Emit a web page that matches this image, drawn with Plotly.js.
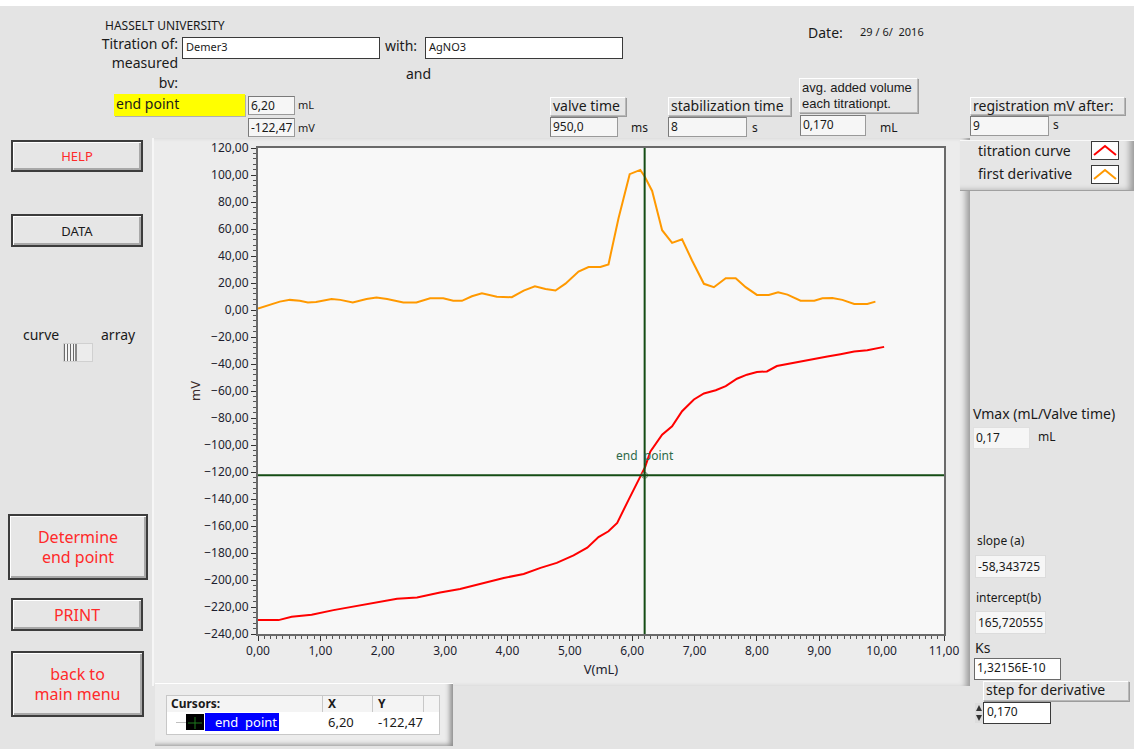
<!DOCTYPE html>
<html>
<head>
<meta charset="utf-8">
<script src="https://cdn.plot.ly/plotly-3.0.1.min.js"></script>
<style>
  html, body { margin: 0; padding: 0; }
  body { width: 1134px; height: 749px; position: relative; overflow: hidden;
         background: #ffffff; font-family: "Noto Sans", "Open Sans", sans-serif; color: #1a1a1a; }
  #win { position: absolute; left: 0; top: 6px; width: 1134px; height: 743px; background: #e4e4e4; }
  .abs { position: absolute; white-space: nowrap; }
  .lbl { font-size: 14px; line-height: 16px; }
  .inbox { background: #ffffff; border: 1px solid #3a3a3a; font-size: 11px; line-height: 18px; padding-left: 3px; box-sizing: border-box; }
  .ind { background: #f6f6f6; border: 1px solid #9a9a9a; border-top-color: #7a7a7a; border-left-color: #7a7a7a;
         font-size: 12px; line-height: 18px; padding-left: 2px; box-sizing: border-box; }
  .cap { background: #e6e6e6; border: 1px solid #b8b8b8; border-top-color: #ffffff; border-left-color: #ffffff;
         box-shadow: 1px 1px 0 #9c9c9c; font-size: 14px; line-height: 16px; padding: 0 2px; box-sizing: border-box; }
  .btn { background: #e6e6e6; border: 2px solid #3c3c3c; box-shadow: inset 1px 1px 0 #ffffff, inset -2px -2px 0 #a8a8a8;
         color: #ff2a2a; text-align: center; box-sizing: border-box; display: flex; align-items: center; justify-content: center; }
  #plotPanel { position: absolute; left: 152px; top: 138px; width: 816px; height: 548px; background: #ececec;
               border-left: 2px solid #f6f6f6; box-shadow: inset -7px 0 6px -3px #9a9a9a; }
  #chart { position: absolute; left: 150px; top: 130px; width: 820px; height: 560px; }
</style>
</head>
<body>
<div id="win"></div>
<div id="plotPanel"></div>
<div id="chart"></div>

<script>
// ---- titration data (volume in mL, potential in mV) ----
const titrV  = [0.00, 0.33, 0.54, 0.86, 1.21, 1.53, 1.85, 2.23, 2.55, 2.92, 3.24, 3.62, 3.94, 4.26, 4.53,
                4.79, 5.06, 5.28, 5.46, 5.62, 5.76, 5.94, 6.13, 6.21, 6.29, 6.48, 6.64, 6.80, 6.99, 7.15,
                7.34, 7.50, 7.68, 7.84, 8.00, 8.16, 8.32, 8.54, 8.70, 8.91, 9.13, 9.34, 9.56, 9.77, 10.04];
const titrMV = [-229.7, -229.7, -227.3, -225.8, -222.3, -219.8, -217.4, -213.9, -212.9, -209.2, -206.6, -202.2, -198.5, -195.5, -191.0,
                -187.3, -181.8, -176.1, -168.2, -163.9, -157.7, -140.8, -123.5, -116.0, -105.0, -92.4, -86.2, -75.0, -66.3, -61.8,
                -59.4, -56.4, -50.9, -47.9, -45.9, -45.5, -41.5, -39.5, -38.3, -36.5, -34.5, -32.8, -30.8, -29.8, -27.3];

// ---- first derivative of the titration curve ----
const derivV  = [0.00, 0.17, 0.35, 0.51, 0.67, 0.80, 0.93, 1.18, 1.32, 1.52, 1.74, 1.90, 2.07, 2.33, 2.54,
                 2.76, 2.97, 3.13, 3.27, 3.43, 3.59, 3.83, 4.07, 4.26, 4.44, 4.61, 4.77, 4.93, 5.14, 5.30,
                 5.49, 5.62, 5.78, 5.96, 6.13, 6.20, 6.32, 6.48, 6.64, 6.80, 6.96, 7.15, 7.31, 7.50, 7.66,
                 7.82, 8.00, 8.19, 8.34, 8.49, 8.70, 8.92, 9.05, 9.21, 9.37, 9.56, 9.77, 9.90];
const derivMV = [1.0, 3.5, 6.2, 7.5, 6.8, 5.5, 6.0, 8.2, 7.5, 5.5, 8.2, 9.3, 8.2, 5.5, 5.5,
                 8.7, 8.7, 6.8, 6.8, 10.2, 12.4, 9.8, 9.5, 14.4, 17.5, 15.6, 14.4, 19.5, 28.5, 31.8,
                 31.8, 33.8, 67.8, 100.6, 103.8, 98.9, 88.2, 59.1, 49.7, 52.4, 36.7, 19.4, 16.9, 23.6, 23.6,
                 16.9, 11.2, 11.2, 13.2, 11.4, 6.9, 6.9, 8.7, 8.9, 7.5, 4.5, 4.5, 6.2];

// ---- end point cursor ----
const endX = [6.20];
const endY = [-122.47];

// ---- panel readouts ----
const readouts = {
  endVol: "6,20", endMV: "-122,47", valveTime: "950,0", stabTime: "8", avgVol: "0,170", regAfter: "9",
  vmax: "0,17", slope: "-58,343725", intercept: "165,720555", ks: "1,32156E-10", step: "0,170"
};

// ---------- front panel widgets ----------
function el(cls, x, y, w, h, html, extra) {
  const d = document.createElement('div');
  d.className = 'abs ' + cls;
  d.style.left = x + 'px'; d.style.top = y + 'px';
  if (w != null) d.style.width = w + 'px';
  if (h != null) d.style.height = h + 'px';
  d.innerHTML = html;
  if (extra) Object.assign(d.style, extra);
  document.body.appendChild(d);
  return d;
}

el('lbl', 105, 18, null, null, 'HASSELT UNIVERSITY', {fontSize: '12px'});
el('lbl', 60, 36, 118, null, 'Titration of:', {textAlign: 'right'});
el('lbl', 60, 53, 118, null, 'measured<br>bv:', {textAlign: 'right', whiteSpace: 'normal', lineHeight: '19.5px'});
el('inbox', 182, 37, 198, 22, 'Demer3');
el('lbl', 385, 38, null, null, 'with:');
el('inbox', 425, 37, 198, 22, 'AgNO3');
el('lbl', 406, 66, null, null, 'and');
el('lbl', 808, 25, null, null, 'Date:');
el('lbl', 860, 24, null, null, '29 / 6/&nbsp; 2016', {fontSize: '11px'});

el('', 114, 94, 131, 22, 'end point', {background: '#ffff00', fontSize: '14px', lineHeight: '20px', paddingLeft: '2px', boxSizing: 'border-box', boxShadow: '1px 1px 0 #b0b0b0'});
el('ind', 248, 96, 47, 19, readouts.endVol);
el('lbl', 298, 97, null, null, 'mL', {fontSize: '11px'});
el('ind', 248, 118, 47, 19, readouts.endMV);
el('lbl', 298, 120, null, null, 'mV', {fontSize: '11px'});

el('cap', 550, 97, 76, 19, 'valve time');
el('ind', 550, 117, 68, 20, readouts.valveTime);
el('lbl', 631, 120, null, null, 'ms', {fontSize: '12px'});
el('cap', 668, 97, 123, 19, 'stabilization time');
el('ind', 668, 117, 79, 20, readouts.stabTime);
el('lbl', 752, 120, null, null, 's', {fontSize: '12px'});
el('cap', 799, 78, 119, 35, 'avg. added volume<br>each titrationpt.',
   {fontFamily: '"Liberation Sans", Arial, sans-serif', fontSize: '13px', lineHeight: '15.5px', paddingTop: '1px', whiteSpace: 'normal'});
el('ind', 800, 115, 66, 21, readouts.avgVol);
el('lbl', 880, 120, null, null, 'mL', {fontSize: '12px'});
el('cap', 970, 97, 155, 18, 'registration mV after:');
el('ind', 970, 116, 79, 20, readouts.regAfter);
el('lbl', 1053, 117, null, null, 's', {fontSize: '12px'});

// buttons on the left
el('btn', 11, 140, 132, 32, 'HELP', {fontSize: '13px'});
el('btn', 11, 214, 132, 33, 'DATA', {fontSize: '13px', color: '#1a1a1a'});
el('lbl', 23, 327, null, null, 'curve');
el('lbl', 101, 327, null, null, 'array');
el('', 63, 343, 30, 19, '', {background: '#ececec', border: '1px solid #d0d0d0', boxSizing: 'border-box'});
el('', 64, 344, 13, 17, '', {background: 'repeating-linear-gradient(90deg,#6a6a6a 0 1px,#f4f4f4 1px 3px)', borderRight: '2px solid #8a8a8a', boxSizing: 'border-box'});
el('btn', 8, 514, 140, 66, 'Determine<br>end point', {fontSize: '16px', lineHeight: '20px'});
el('btn', 11, 598, 132, 33, 'PRINT', {fontSize: '16px'});
el('btn', 11, 651, 133, 66, 'back to<br>main menu', {fontSize: '16px', lineHeight: '20px'});

// legend
el('', 960, 140, 174, 49, '', {background: '#e6e6e6', borderTop: '1px solid #f8f8f8', boxShadow: 'inset -8px -3px 6px -4px #9a9a9a, 0 1px 0 #a0a0a0'});
el('lbl', 978, 143, null, null, 'titration curve');
el('lbl', 978, 166, null, null, 'first derivative');
function legendIcon(y, color) {
  el('', 1091, y, 28, 19,
     '<svg width="26" height="17"><polyline points="2,13 13,4 24,13" fill="none" stroke="' + color + '" stroke-width="2"/></svg>',
     {background: '#ffffff', border: '1px solid #3a3a3a', boxSizing: 'border-box'});
}
legendIcon(141, '#ff0000');
legendIcon(165, '#ff9900');

// right column
el('lbl', 973, 406, null, null, 'Vmax (mL/Valve time)');
el('ind', 973, 427, 57, 22, readouts.vmax, {lineHeight: '20px', borderColor: '#e0e0e0'});
el('lbl', 1038, 429, null, null, 'mL', {fontSize: '12px'});
el('lbl', 977, 533, null, null, 'slope (a)', {fontSize: '12px'});
el('ind', 975, 555, 71, 23, readouts.slope, {lineHeight: '21px', borderColor: '#dcdcdc'});
el('lbl', 976, 590, null, null, 'intercept(b)', {fontSize: '12px'});
el('ind', 975, 611, 71, 23, readouts.intercept, {lineHeight: '21px', borderColor: '#dcdcdc'});
el('lbl', 975, 640, null, null, 'Ks');
el('ind', 974, 658, 87, 22, readouts.ks, {background: '#ffffff', borderColor: '#6a6a6a'});
el('cap', 983, 681, 146, 20, 'step for derivative');
el('', 975, 703, 8, 20, '<svg width="8" height="20"><polygon points="1,8 4,2 7,8" fill="#333"/><polygon points="1,12 4,18 7,12" fill="#333"/></svg>', {background: '#dcdcdc'});
el('inbox', 983, 702, 68, 22, readouts.step, {fontSize: '12px'});

// cursor table
el('', 155, 683, 298, 62, '', {background: '#ececec', borderTop: '1px solid #ffffff', boxShadow: 'inset -6px -4px 5px -3px #8c8c8c'});
el('', 166, 695, 274, 40, '', {background: '#f4f4f4', border: '1px solid #c8c8c8', boxSizing: 'border-box'});
el('', 322, 695, 1, 40, '', {background: '#c8c8c8'});
el('', 372, 695, 1, 40, '', {background: '#c8c8c8'});
el('', 423, 695, 1, 40, '', {background: '#c8c8c8'});
el('', 167, 712, 272, 22, '', {background: '#ffffff'});
el('lbl', 171, 696, null, null, 'Cursors:', {fontSize: '12px', fontWeight: 'bold'});
el('lbl', 328, 696, null, null, 'X', {fontSize: '12px', fontWeight: 'bold'});
el('lbl', 378, 696, null, null, 'Y', {fontSize: '12px', fontWeight: 'bold'});
el('', 176, 722, 12, 1, '', {background: '#c0c0c0'});
el('', 186, 714, 18, 16, '<svg width="18" height="16"><line x1="9" y1="2" x2="9" y2="14" stroke="#1f7a1f"/><line x1="2" y1="8" x2="16" y2="8" stroke="#1f7a1f"/></svg>', {background: '#000000'});
el('', 205, 713, 74, 18, 'end&nbsp; point', {background: '#0000ff', color: '#ffffff', fontSize: '13px', lineHeight: '18px', paddingLeft: '10px', boxSizing: 'border-box'});
el('lbl', 328, 714, null, null, endX[0].toFixed(2).replace('.', ','), {fontSize: '13px'});
el('lbl', 378, 714, null, null, endY[0].toFixed(2).replace('.', ','), {fontSize: '13px'});

// ---------- graph ----------
const traces = [
  { x: titrV, y: titrMV, type: 'scatter', mode: 'lines', name: 'titration curve',
    line: { color: '#ff0000', width: 2 }, hoverinfo: 'skip' },
  { x: derivV, y: derivMV, type: 'scatter', mode: 'lines', name: 'first derivative',
    line: { color: '#ff9900', width: 2 }, hoverinfo: 'skip' },
  { x: endX, y: endY, type: 'scatter', mode: 'markers', name: 'end point',
    marker: { symbol: 'circle-x-open', size: 6, color: '#8a9a8a', line: { width: 1 } }, hoverinfo: 'skip' }
];

const cursorColor = '#154d15';
const axisFont = { family: 'Noto Sans, sans-serif', size: 12, color: '#1e1e30' };

const layout = {
  width: 820, height: 560,
  margin: { l: 108, r: 26, t: 18, b: 56 },
  paper_bgcolor: 'rgba(0,0,0,0)',
  plot_bgcolor: '#f8f8f8',
  separators: ',.',
  showlegend: false,
  xaxis: {
    range: [0, 11], tick0: 0, dtick: 1, tickformat: '.2f', ticklabeloverflow: 'allow',
    ticks: 'outside', ticklen: 5, tickwidth: 1, tickcolor: '#333',
    minor: { dtick: 0.1, ticks: 'outside', ticklen: 3, tickcolor: '#555', showgrid: false },
    showgrid: false, zeroline: false, showline: true, linecolor: '#6a6a6a', linewidth: 2, mirror: true,
    tickfont: axisFont,
    title: { text: 'V(mL)', font: { family: 'Noto Sans, sans-serif', size: 13, color: '#1e1e30' }, standoff: 6 }
  },
  yaxis: {
    range: [-240, 120], tick0: 0, dtick: 20, tickformat: '.2f', ticklabeloverflow: 'allow',
    ticks: 'outside', ticklen: 5, tickwidth: 1, tickcolor: '#333',
    minor: { dtick: 4, ticks: 'outside', ticklen: 3, tickcolor: '#555', showgrid: false },
    showgrid: false, zeroline: false, showline: true, linecolor: '#6a6a6a', linewidth: 2, mirror: true,
    tickfont: axisFont,
    title: { text: 'mV', font: { family: 'Noto Sans, sans-serif', size: 13, color: '#3a2a2a' }, standoff: 1 }
  },
  shapes: [
    { type: 'line', xref: 'x', yref: 'y domain', x0: endX[0], x1: endX[0], y0: 0, y1: 1,
      line: { color: cursorColor, width: 2 } },
    { type: 'line', xref: 'x domain', yref: 'y', x0: 0, x1: 1, y0: endY[0], y1: endY[0],
      line: { color: cursorColor, width: 2 } }
  ],
  annotations: [
    { x: endX[0], y: endY[0], xref: 'x', yref: 'y', text: 'end&nbsp; point', showarrow: false,
      yshift: 20, font: { family: 'Noto Sans, sans-serif', size: 12, color: '#2f6a4a' } }
  ]
};

Plotly.newPlot('chart', traces, layout, { displayModeBar: false, staticPlot: true });
</script>
</body>
</html>
